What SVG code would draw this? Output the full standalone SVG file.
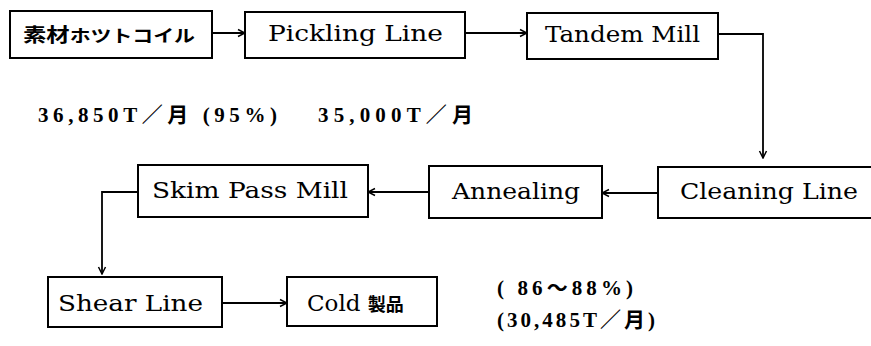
<svg xmlns="http://www.w3.org/2000/svg" width="871" height="346" viewBox="0 0 871 346">
<style>
.box{fill:#fff;stroke:#000;stroke-width:2}
.lbl{font-family:"DejaVu Serif","Liberation Serif",serif;font-size:23px;fill:#000}
.jp{font-family:"Noto Sans CJK JP",sans-serif;font-weight:bold;fill:#000}
.num{font-family:"Liberation Serif","Noto Sans CJK JP",serif;font-weight:bold;font-size:21px;fill:#000}
.conn{fill:none;stroke:#000;stroke-width:1.8}
</style>
<defs>
<marker id="ah" markerWidth="10" markerHeight="10" refX="9" refY="5" orient="auto" markerUnits="userSpaceOnUse">
<path d="M2,1.5 L9,5 L2,8.5" fill="none" stroke="#000" stroke-width="1.5"/>
</marker>
</defs>
<rect width="871" height="346" fill="#fff"/>
<g id="connectors">
<path class="conn" d="M212,33 L245,33" marker-end="url(#ah)"/>
<path class="conn" d="M465,33 L527,33" marker-end="url(#ah)"/>
<path class="conn" d="M718,34 L763,34 L763,158" marker-end="url(#ah)"/>
<path class="conn" d="M658,193 L602,193" marker-end="url(#ah)"/>
<path class="conn" d="M429,192 L368,192" marker-end="url(#ah)"/>
<path class="conn" d="M138,192 L102,192 L102,274" marker-end="url(#ah)"/>
<path class="conn" d="M222,303 L287,303" marker-end="url(#ah)"/>
</g>
<g id="n-coil">
<rect class="box" x="10" y="11" width="202" height="47"/>
<text class="jp" x="23" y="42" font-size="19" textLength="172" lengthAdjust="spacingAndGlyphs">素材<tspan font-size="17">ホツトコイル</tspan></text>
</g>
<g id="n-pickling">
<rect class="box" x="245" y="12" width="220" height="46"/>
<text class="lbl" x="268" y="41" textLength="175" lengthAdjust="spacingAndGlyphs">Pickling Line</text>
</g>
<g id="n-tandem">
<rect class="box" x="527" y="13" width="191" height="46"/>
<text class="lbl" x="545" y="42" textLength="155" lengthAdjust="spacingAndGlyphs">Tandem Mill</text>
</g>
<g id="n-cleaning">
<rect class="box" x="658" y="167" width="215" height="51"/>
<text class="lbl" x="680" y="199" textLength="178" lengthAdjust="spacingAndGlyphs">Cleaning Line</text>
</g>
<g id="n-annealing">
<rect class="box" x="429" y="166" width="173" height="52"/>
<text class="lbl" x="452" y="199" textLength="128" lengthAdjust="spacingAndGlyphs">Annealing</text>
</g>
<g id="n-skim">
<rect class="box" x="138" y="165" width="230" height="52"/>
<text class="lbl" x="152" y="198" textLength="196" lengthAdjust="spacingAndGlyphs">Skim Pass Mill</text>
</g>
<g id="n-shear">
<rect class="box" x="48" y="277" width="174" height="50"/>
<text class="lbl" x="58" y="311" textLength="145" lengthAdjust="spacingAndGlyphs">Shear Line</text>
</g>
<g id="n-cold">
<rect class="box" x="287" y="277" width="150" height="49"/>
<text class="lbl" x="307" y="311">Cold <tspan class="jp" font-size="18">製品</tspan></text>
</g>
<g id="labels">
<text class="num" x="38" y="122" textLength="239" lengthAdjust="spacing">36,850T／月 (95%)</text>
<text class="num" x="318" y="122" textLength="155" lengthAdjust="spacing">35,000T／月</text>
<text class="num" x="497" y="295" textLength="136" lengthAdjust="spacing">( 86～88%)</text>
<text class="num" x="497" y="327" textLength="158" lengthAdjust="spacing">(30,485T／月)</text>
</g>
</svg>
